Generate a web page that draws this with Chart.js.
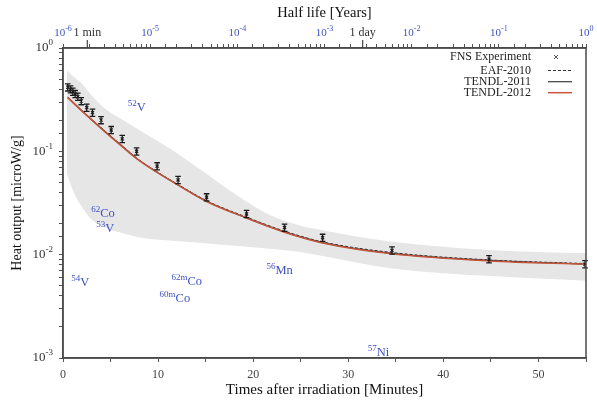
<!DOCTYPE html>
<html>
<head>
<meta charset="utf-8">
<script src="https://cdn.jsdelivr.net/npm/chart.js@4.4.1/dist/chart.umd.min.js"></script>
<style>
  html, body { margin: 0; padding: 0; background: #fff; }
</style>
</head>
<body>
<canvas id="heatChart" width="597" height="402"></canvas>
<script>
// ---- FNS measurement (minutes, microW/g) ----
const expTimes  = [0.5, 0.79, 1.03, 1.28, 1.56, 1.92, 2.5, 3.1, 4.0, 5.07, 6.23, 7.74, 9.9, 12.1, 15.1, 19.3, 23.3, 27.3, 34.6, 44.8, 54.9];
const expValues = [0.417, 0.399, 0.378, 0.359, 0.338, 0.307, 0.265, 0.237, 0.201, 0.161, 0.132, 0.100, 0.0718, 0.0529, 0.036, 0.0248, 0.0183, 0.0146, 0.0110, 0.00905, 0.00809];
const expErrFrac = 0.08;

// ---- calculations ----
const calcTimes = [0.5, 1.92, 4.0, 6.23, 7.74, 9.9, 12.1, 15.1, 19.3, 23.3, 27.3, 34.6, 44.8, 55];
const tendl2012 = [0.331, 0.249, 0.167, 0.111, 0.0851, 0.0625, 0.0471, 0.0327, 0.0226, 0.0165, 0.0130, 0.0102, 0.0087, 0.0081];
const tendl2011 = [0.332, 0.250, 0.168, 0.112, 0.0855, 0.0628, 0.0473, 0.0329, 0.0227, 0.0166, 0.0131, 0.0103, 0.0088, 0.0081];
const eaf2010   = [0.334, 0.252, 0.169, 0.113, 0.0860, 0.0633, 0.0478, 0.0333, 0.0231, 0.0169, 0.0133, 0.0105, 0.0089, 0.0082];

// ---- uncertainty band ----
const bandTimes = [0.4, 0.8, 1.3, 2.0, 3.1, 4.9, 6.0, 8.4, 11.2, 14.7, 18.2, 21.7, 25, 27, 34.4, 44.9, 55];
const bandUpper = [0.61, 0.56, 0.51, 0.45, 0.34, 0.24, 0.209, 0.153, 0.107, 0.064, 0.038, 0.0243, 0.019, 0.0174, 0.0134, 0.0111, 0.0103];
const bandLower = [0.062, 0.048, 0.037, 0.029, 0.0215, 0.0176, 0.0164, 0.0145, 0.0137, 0.013, 0.0122, 0.0114, 0.0106, 0.0098, 0.0074, 0.0062, 0.0056];

// ---- tick labels ----
const yTickExps = [0, -1, -2, -3];
const topTickExps = [-6, -5, -4, -3, -2, -1, 0];
const topMarkLabels = ['1 min', '1 day'];
const topMarkYears = [1.9e-6, 2.74e-3];

// ---- nuclide labels ----
const isoMass  = ['52', '62', '53', '54', '62m', '60m', '56', '57'];
const isoName  = ['V', 'Co', 'V', 'V', 'Co', 'Co', 'Mn', 'Ni'];
const isoTimes = [6.8, 2.97, 3.5, 0.86, 11.4, 10.16, 21.4, 32.05];
const isoVals  = [0.24, 0.0227, 0.0163, 0.00488, 0.00499, 0.00342, 0.00638, 0.00102];

const FONT = 'Liberation Serif';
const BLUE = '#3f51c2';
const RED = '#c4553b';

const toXY = (xs, ys) => xs.map((x, i) => ({ x: x, y: ys[i] }));

// draws a run of text pieces, some raised as superscripts
function drawRich(ctx, pieces, x, y, align, color) {
    let total = 0;
    pieces.forEach(p => {
        ctx.font = p.size + 'px "' + FONT + '"';
        p.w = ctx.measureText(p.t).width;
        total += p.w;
    });
    let cx = x;
    if (align === 'right') cx = x - total;
    if (align === 'center') cx = x - total / 2;
    ctx.fillStyle = color;
    ctx.textAlign = 'left';
    ctx.textBaseline = 'middle';
    pieces.forEach(p => {
        ctx.font = p.size + 'px "' + FONT + '"';
        ctx.fillText(p.t, cx, y + (p.dy || 0));
        cx += p.w;
    });
}

const decorPlugin = {
    id: 'decor',
    afterDatasetsDraw(chart) {
        const ctx = chart.ctx;
        const xs = chart.scales.x, ys = chart.scales.y;
        // error bars of the measurement
        ctx.save();
        ctx.strokeStyle = '#1a1a1a';
        ctx.lineWidth = 1.3;
        expTimes.forEach((t, i) => {
            const px = xs.getPixelForValue(t);
            const hi = ys.getPixelForValue(expValues[i] * (1 + expErrFrac));
            const lo = ys.getPixelForValue(expValues[i] * (1 - expErrFrac));
            ctx.beginPath();
            ctx.moveTo(px, hi); ctx.lineTo(px, lo);
            ctx.moveTo(px - 2.8, hi); ctx.lineTo(px + 2.8, hi);
            ctx.moveTo(px - 2.8, lo); ctx.lineTo(px + 2.8, lo);
            ctx.stroke();
        });
        ctx.restore();
    },
    afterDraw(chart) {
        const ctx = chart.ctx;
        const area = chart.chartArea;
        const xs = chart.scales.x, ys = chart.scales.y, x2 = chart.scales.x2;
        ctx.save();

        // frame
        ctx.strokeStyle = '#4a4a4a';
        ctx.lineWidth = 1.5;
        ctx.strokeRect(area.left, area.top, area.right - area.left, area.bottom - area.top);

        // left decade labels
        yTickExps.forEach(e => {
            const py = ys.getPixelForValue(Math.pow(10, e));
            drawRich(ctx, [
                { t: '10', size: 13 },
                { t: String(e), size: 9, dy: -5 }
            ], area.left - 10, py, 'right', '#333');
        });

        // top decade labels
        topTickExps.forEach(e => {
            const px = x2.getPixelForValue(Math.pow(10, e));
            drawRich(ctx, [
                { t: '10', size: 11 },
                { t: String(e), size: 8, dy: -4 }
            ], px, 33, 'center', BLUE);
        });
        topMarkYears.forEach((yr, i) => {
            const px = x2.getPixelForValue(yr);
            ctx.strokeStyle = '#444';
            ctx.lineWidth = 1.2;
            ctx.beginPath();
            ctx.moveTo(px, area.top); ctx.lineTo(px, area.top - 8);
            ctx.stroke();
            drawRich(ctx, [{ t: topMarkLabels[i], size: 12 }], px, 33, 'center', '#333');
        });

        // nuclide labels
        isoMass.forEach((m, i) => {
            const px = xs.getPixelForValue(isoTimes[i]);
            const py = ys.getPixelForValue(isoVals[i]);
            drawRich(ctx, [
                { t: m, size: 9, dy: -8 },
                { t: isoName[i], size: 12.5, dy: -4 }
            ], px, py, 'left', BLUE);
        });

        // legend
        const names = ['FNS Experiment', 'EAF-2010', 'TENDL-2011', 'TENDL-2012'];
        const rows = [57, 70.5, 81.7, 92.7];
        const sets = chart.data.datasets;
        const byLabel = l => sets.find(d => d.label === l);
        names.forEach((n, i) => {
            drawRich(ctx, [{ t: n, size: 12 }], 531, rows[i], 'right', '#222');
            const ds = byLabel(n);
            if (n === 'FNS Experiment') {
                ctx.strokeStyle = '#555';
                ctx.lineWidth = 1;
                ctx.beginPath();
                ctx.moveTo(554, rows[i] - 2); ctx.lineTo(558, rows[i] + 2);
                ctx.moveTo(558, rows[i] - 2); ctx.lineTo(554, rows[i] + 2);
                ctx.stroke();
            } else {
                ctx.strokeStyle = ds.borderColor;
                ctx.lineWidth = ds.borderWidth;
                ctx.setLineDash(ds.borderDash || []);
                ctx.beginPath();
                ctx.moveTo(548, rows[i]); ctx.lineTo(572, rows[i]);
                ctx.stroke();
                ctx.setLineDash([]);
            }
        });
        ctx.restore();
    }
};

const ctx = document.getElementById('heatChart').getContext('2d');
new Chart(ctx, {
    type: 'line',
    data: {
        datasets: [
            {
                label: 'band-upper',
                data: toXY(bandTimes, bandUpper),
                fill: '+1',
                backgroundColor: '#e6e6e6',
                borderWidth: 0,
                pointRadius: 0,
                cubicInterpolationMode: 'monotone',
                order: 10
            },
            {
                label: 'band-lower',
                data: toXY(bandTimes, bandLower),
                fill: false,
                borderWidth: 0,
                pointRadius: 0,
                cubicInterpolationMode: 'monotone',
                order: 10
            },
            {
                label: 'TENDL-2011',
                data: toXY(calcTimes, tendl2011),
                borderColor: '#3a3a3a',
                borderWidth: 1.2,
                pointRadius: 0,
                fill: false,
                cubicInterpolationMode: 'monotone',
                order: 3
            },
            {
                label: 'EAF-2010',
                data: toXY(calcTimes, eaf2010),
                borderColor: '#333',
                borderWidth: 1,
                borderDash: [3, 2],
                pointRadius: 0,
                fill: false,
                cubicInterpolationMode: 'monotone',
                order: 2
            },
            {
                label: 'TENDL-2012',
                data: toXY(calcTimes, tendl2012),
                borderColor: RED,
                borderWidth: 1.5,
                pointRadius: 0,
                fill: false,
                cubicInterpolationMode: 'monotone',
                order: 1
            },
            {
                label: 'FNS Experiment',
                data: toXY(expTimes, expValues),
                showLine: false,
                pointStyle: 'crossRot',
                pointRadius: 2.2,
                borderColor: '#222',
                borderWidth: 1.2,
                order: 0
            }
        ]
    },
    options: {
        responsive: false,
        animation: false,
        layout: { padding: { right: 11 } },
        plugins: {
            legend: { display: false },
            tooltip: { enabled: false }
        },
        scales: {
            x: {
                type: 'linear',
                position: 'bottom',
                min: 0,
                max: 55,
                ticks: {
                    stepSize: 5,
                    color: '#444',
                    padding: 6,
                    maxRotation: 0,
                    autoSkip: false,
                    font: { family: FONT, size: 12 },
                    callback: v => (v % 10 === 0 ? String(v) : '')
                },
                grid: { drawOnChartArea: false, color: '#555', tickLength: 4 },
                border: { color: '#4a4a4a', width: 1.5 },
                title: {
                    display: true,
                    text: 'Times after irradiation [Minutes]',
                    color: '#111',
                    font: { family: FONT, size: 15 },
                    padding: { top: 0, bottom: 3 }
                },
                afterFit: s => { s.height = 44; }
            },
            x2: {
                type: 'logarithmic',
                position: 'top',
                min: 1e-6,
                max: 1,
                ticks: { autoSkip: false, callback: () => '' },
                grid: { drawOnChartArea: false, color: '#555', tickLength: 4 },
                border: { color: '#4a4a4a', width: 1.5 },
                title: {
                    display: true,
                    text: 'Half life [Years]',
                    color: '#111',
                    font: { family: FONT, size: 14.5 },
                    padding: { top: 4, bottom: 0 }
                },
                afterFit: s => { s.height = 48; }
            },
            y: {
                type: 'logarithmic',
                position: 'left',
                min: 0.001,
                max: 1,
                ticks: { autoSkip: false, callback: () => '' },
                grid: { drawOnChartArea: false, color: '#555', tickLength: 4 },
                border: { color: '#4a4a4a', width: 1.5 },
                title: {
                    display: true,
                    text: 'Heat output [microW/g]',
                    color: '#111',
                    font: { family: FONT, size: 14 },
                    padding: { top: 9, bottom: 0 }
                },
                afterFit: s => { s.width = 63; }
            }
        }
    },
    plugins: [decorPlugin]
});
</script>
</body>
</html>
